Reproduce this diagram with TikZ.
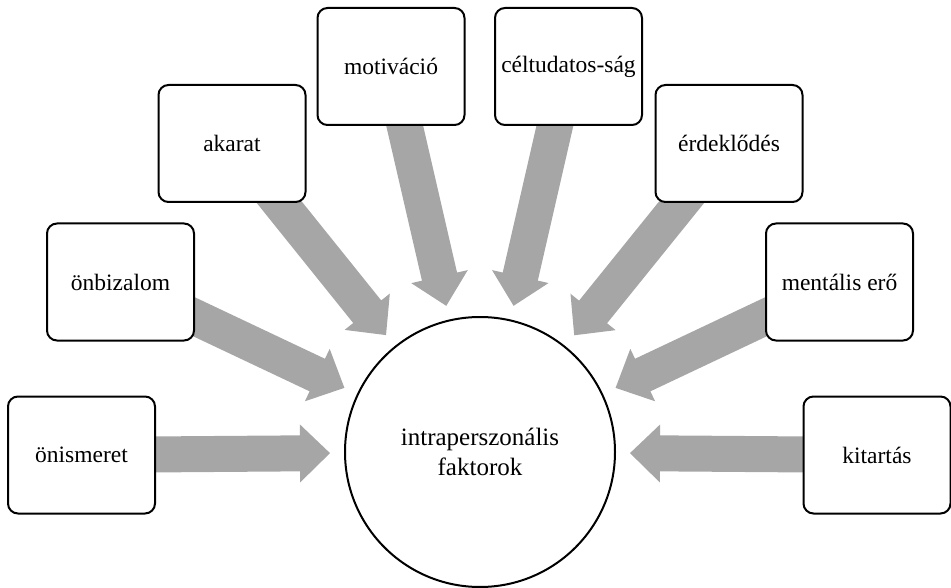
\documentclass[tikz,border=0pt]{standalone}
\usepackage{fontspec}
\setmainfont{Liberation Serif}
\usetikzlibrary{calc}
\definecolor{arrowgray}{RGB}{166,166,166}
\pgfdeclarelayer{bg}
\pgfsetlayers{bg,main}
\tikzset{
  factor/.style={draw=black, line width=2pt, rounded corners=10pt, fill=white,
    minimum width=147pt, minimum height=117pt, inner sep=0pt,
    font=\fontsize{23.5}{30}\selectfont, align=center},
  hub/.style={circle, draw=black, line width=2pt, fill=white,
    minimum size=270pt, inner sep=0pt,
    font=\fontsize{25}{30}\selectfont, align=center},
  blockarrow/.style={fill=arrowgray, draw=none}
}
\newcommand\radialarrow[2]{%
  \coordinate (T) at ($(#2.center)!150pt!(#1.center)$);
  \coordinate (H) at ($(#2.center)!180pt!(#1.center)$);
  \fill[blockarrow]
    ($(#1.center)!18pt!-90:(H)$) -- ($(H)!18pt!90:(#1.center)$)
    -- ($(H)!29pt!90:(#1.center)$) -- (T)
    -- ($(H)!29pt!-90:(#1.center)$) -- ($(H)!18pt!-90:(#1.center)$)
    -- ($(#1.center)!18pt!90:(H)$) -- cycle;
}
\begin{document}
\begin{tikzpicture}[x=1pt,y=-1pt]
  \useasboundingbox (0,0) rectangle (951,588);
  \node[hub] (hub) at (480,452) {intraperszonális\\faktorok};
  \node[factor] (b1) at (81.5,455) {önismeret};
  \node[factor] (b2) at (120.5,282) {önbizalom};
  \node[factor] (b3) at (232,143.5) {akarat};
  \node[factor] (b4) at (391,66.5) {motiváció};
  \node[factor] (b5) at (568.5,66.5) {céltudatos-ság};
  \node[factor] (b6) at (729,143.5) {érdeklődés};
  \node[factor] (b7) at (839.5,282) {mentális erő};
  \node[factor] (b8) at (877,455) {kitartás};
  \begin{pgfonlayer}{bg}
    \radialarrow{b1}{hub}
    \radialarrow{b2}{hub}
    \radialarrow{b3}{hub}
    \radialarrow{b4}{hub}
    \radialarrow{b5}{hub}
    \radialarrow{b6}{hub}
    \radialarrow{b7}{hub}
    \radialarrow{b8}{hub}
  \end{pgfonlayer}
\end{tikzpicture}
\end{document}
